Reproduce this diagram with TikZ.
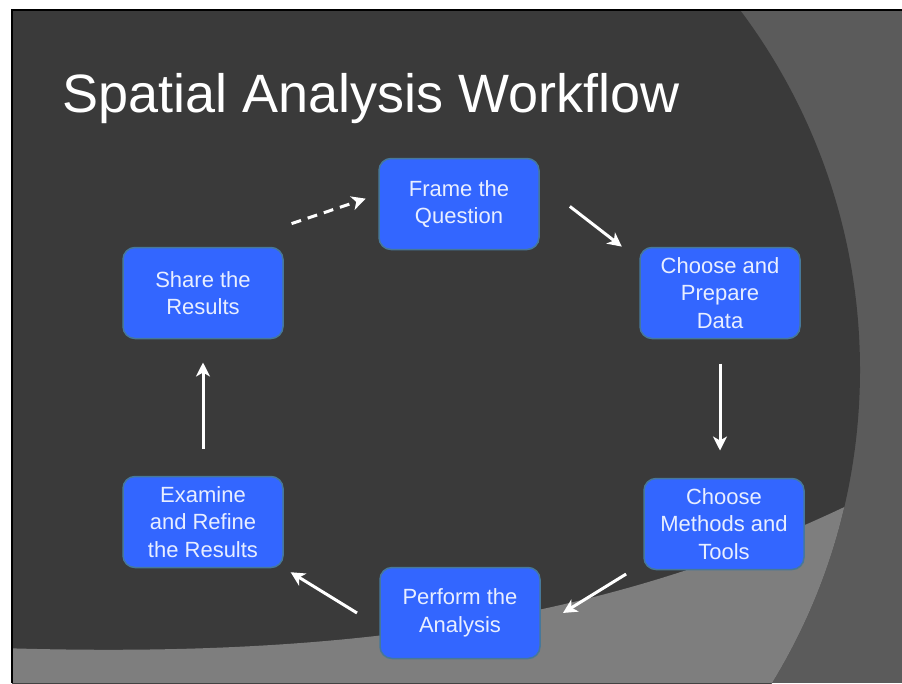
\documentclass[tikz,border=0pt]{standalone}
\usepackage{fontspec}
\setmainfont{Liberation Sans}
\usepackage{tikz}
\usetikzlibrary{arrows.meta, positioning}
\definecolor{slidedark}{HTML}{3A3A3A}
\definecolor{slidegray}{HTML}{5B5B5B}
\definecolor{bandgray}{HTML}{7E7E7E}
\definecolor{boxblue}{HTML}{3366FF}
\definecolor{boxedge}{HTML}{46789A}
\definecolor{boxtext}{HTML}{E8EEFF}
\tikzset{
    >={Stealth[length=14pt, width=14pt, inset=4pt]}, % makes the arrow heads bold
    stage/.style={rectangle, rounded corners=12pt, fill=boxblue, draw=boxedge, line width=1.5pt,
        minimum width=160pt, minimum height=91pt, inner sep=0pt, outer sep=0pt,
        align=center, text=boxtext, font=\fontsize{22}{27.5}\selectfont}, % the blue step boxes
    flow/.style={->, white, line width=3pt}, % the white arrows between the steps
}
\begin{document}
\begin{tikzpicture}[x=1pt, y=-1pt]
        \useasboundingbox (0,0) rectangle (902,683);
        \fill[white] (0,0) rectangle (902,683);
        % slide background
        \begin{scope}
            \clip (12,10) rectangle (902,683);
            \fill[slidegray] (12,10) rectangle (902,683);
            \fill[slidedark] (260,370) circle[radius=600];
            \clip (260,370) circle[radius=600];
            \fill[bandgray] (0,648) .. controls (380,660) and (650,612) .. (902,478) -- (902,683) -- (0,683) -- cycle;
        \end{scope}
        \draw[black, line width=2pt] (12,683) -- (12,10) -- (902,10);

        \node[anchor=base west, text=white, font=\fontsize{54}{60}\selectfont] (title) at (59,112) {Spatial Analysis Workflow};

        \node[stage] (frame) at (459,204) {Frame the\\Question};
        \node[stage] (prep) at (720,293) {Choose and\\Prepare\\Data};
        \node[stage] (methods) at (724,524) {Choose\\Methods and\\Tools};
        \node[stage] (perform) at (460,613) {Perform the\\Analysis};
        \node[stage] (examine) at (203,522) {Examine\\and Refine\\the Results};
        \node[stage] (share) at (203,293) {Share the\\Results};

        \path[flow] (frame.15) edge[shorten <=39pt, shorten >=23pt] (prep.158)
            (prep.south) edge[shorten <=25pt, shorten >=28pt] (prep.south |- methods.north)
            (methods.206) edge[shorten <=21pt, shorten >=27pt] (perform.-10)
            (perform.190) edge[shorten <=27pt, shorten >=9pt] (examine.south east)
            (examine.north) edge[shorten <=28pt, shorten >=24pt] (share.south)
            (share.69) edge[dash pattern=on 10pt off 7pt, shorten <=75pt, shorten >=14pt] (frame.173);
    \end{tikzpicture}
\end{document}
